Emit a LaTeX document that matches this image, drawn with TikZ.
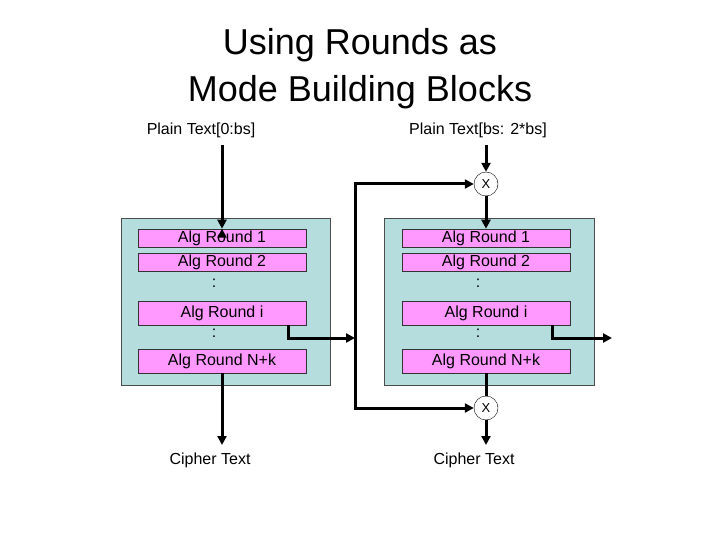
\documentclass[tikz,border=0pt]{standalone}
\usepackage{fontspec}
\setmainfont{Liberation Sans}
\usetikzlibrary{arrows.meta}
\definecolor{boxc}{RGB}{182,221,222}
\definecolor{barc}{RGB}{255,153,255}
\begin{document}
\begin{tikzpicture}[x=1pt,y=-1pt,
  blk/.style={draw=black!70,fill=boxc,line width=0.6pt},
  bar/.style={draw=black!80,fill=barc,line width=0.6pt,minimum width=168pt,inner sep=0pt,font=\fontsize{16}{16}\selectfont},
  xo/.style={circle,draw,fill=white,minimum size=24pt,inner sep=0pt,font=\fontsize{13}{13}\selectfont},
  lab/.style={font=\fontsize{16}{18}\selectfont},
  ar/.style={line width=3pt,-{Triangle[length=9pt,width=9pt]}},
  ln/.style={line width=3pt}]
\useasboundingbox (0,0) rectangle (720,540);
\node[font=\fontsize{36}{47}\selectfont,align=center] (title) at (360,69) {Using Rounds as\\Mode Building Blocks};
\node[lab] (pl) at (201,130) {Plain Text[0:bs]};
\node[lab] (pr) at (478,130) {Plain Text[bs: 2*bs]};
\node[lab] (cl) at (210,460) {Cipher Text};
\node[lab] (cr) at (474,460) {Cipher Text};
\draw[blk] (121,218) rectangle (330,385);
\draw[blk] (384,218) rectangle (594,385);
\foreach \n/\x in {L/222,R/486}{
  \node[bar,minimum height=18pt] (\n1) at (\x,238) {Alg Round 1};
  \node[bar,minimum height=18pt] (\n2) at (\x,262) {Alg Round 2};
  \node[bar,minimum height=24pt] (\n i) at (\x,313) {Alg Round i};
  \node[bar,minimum height=24pt] (\n k) at (\x,361) {Alg Round N+k};
  \node[font=\fontsize{16}{16}\selectfont] (\n d1) at (\x-8,283) {:};
  \node[font=\fontsize{16}{16}\selectfont] (\n d2) at (\x-8,333) {:};
}
\node[xo] (x1) at (486,184) {X};
\node[xo] (x2) at (486,408) {X};
\coordinate (tl) at (222,145);
\coordinate (tr) at (486,145);
\coordinate (bl) at (222,445);
\coordinate (br) at (486,445);
\coordinate (lp) at (355,338);
\coordinate (rp) at (612,338);
\draw[ar] (tl) -- (L1.north);
\draw[ar] (L1.north -| L1.center) ++(0,0);
\draw[ar] (Lk.south -| tl) -- (bl);
\draw[ar] (tr) -- (x1.north);
\draw[ar] (x1.south) -- (R1.north);
\draw[ln] (Rk.south) -- (x2.north);
\draw[ar] (x2.south) -- (br);
\draw[ar] (Li.south -| 288,0) |- (lp);
\draw[ar] (Ri.south -| 552,0) |- (rp);
\draw[ar] (355,184) -- (x1.west);
\draw[ar] (355,408) -- (x2.west);
\draw[ln] (355,182.5) -- (355,409.5);
\end{tikzpicture}
\end{document}
